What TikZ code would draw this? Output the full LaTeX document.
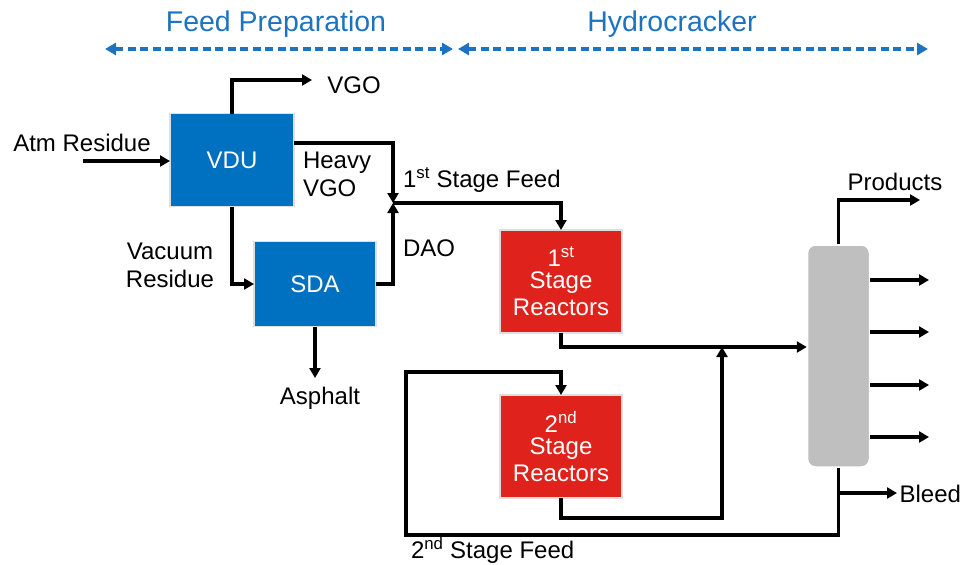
\documentclass[tikz,border=0pt]{standalone}
\usepackage{fontspec}
\setmainfont{Liberation Sans}
\usetikzlibrary{arrows.meta}
\definecolor{boxblue}{RGB}{0,112,192}
\definecolor{boxred}{RGB}{224,34,28}
\definecolor{hdrblue}{RGB}{30,115,190}
\definecolor{colgray}{RGB}{191,191,191}
\begin{document}
\begin{tikzpicture}[x=1pt,y=-1pt,
  lbl/.style={font=\fontsize{24}{28}\selectfont, inner sep=0pt, outer sep=0pt},
  hdrlbl/.style={font=\fontsize{28.5}{32}\selectfont, text=hdrblue, inner sep=0pt},
  unit/.style={draw=gray!25, line width=1.5pt, text=white, inner sep=0pt, outer sep=0pt,
    font=\fontsize{24}{27}\selectfont, align=center},
  flow/.style={line width=3.2pt, line join=miter, -{Triangle[length=10pt,width=11pt]}},
  hdrarrow/.style={draw=hdrblue, line width=3.4pt, dash pattern=on 8pt off 4.5pt,
    {Triangle[length=11pt,width=12pt]}-{Triangle[length=11pt,width=12pt]}}]
\useasboundingbox (0,0) rectangle (962,565);

% header
\node[hdrlbl] (fp) at (276,24) {Feed Preparation};
\node[hdrlbl] (hc) at (672,24) {Hydrocracker};
\coordinate (fpl) at (105,49);
\coordinate (fpr) at (453,49);
\coordinate (hcl) at (458,49);
\coordinate (hcr) at (928,49);
\draw[hdrarrow] (fpl) -- (fpr);
\draw[hdrarrow] (hcl) -- (hcr);

% units
\node[unit, fill=boxblue, minimum width=124pt, minimum height=93pt] (vdu) at (232,160) {VDU};
\node[unit, fill=boxblue, minimum width=122pt, minimum height=85pt] (sda) at (315,284) {SDA};
\node[unit, fill=boxred, minimum width=122pt, minimum height=103pt] (r1) at (561,281.5)
  {1\textsuperscript{st}\\[-5pt]Stage\\Reactors};
\node[unit, fill=boxred, minimum width=122pt, minimum height=103pt] (r2) at (561,446.5)
  {2\textsuperscript{nd}\\[-5pt]Stage\\Reactors};
\node[draw=white, line width=1.5pt, fill=colgray, rounded corners=8pt, inner sep=0pt,
  minimum width=62pt, minimum height=222pt] (col) at (838.5,356) {};

% labels
\node[lbl] (atm) at (82,143) {Atm Residue};
\node[lbl] (vgo) at (354,85) {VGO};
\node[lbl, anchor=west, align=left] (hvgo) at (303,174) {Heavy\\VGO};
\node[lbl, anchor=west] (f1) at (403,180) {1\textsuperscript{st} Stage Feed};
\node[lbl, anchor=west] (dao) at (403,248) {DAO};
\node[lbl, align=center] (vr) at (170,265) {Vacuum\\Residue};
\node[lbl] (asp) at (320,398) {Asphalt};
\node[lbl] (prod) at (895,182) {Products};
\node[lbl, anchor=east] (bleed) at (961,494) {Bleed};
\node[lbl, anchor=west] (f2) at (411,550) {2\textsuperscript{nd} Stage Feed};

% coordinates
\coordinate (atmin) at (83,161);
\coordinate (vgoout) at (312,80);
\coordinate (j) at (393,203);
\coordinate (m) at (722,347);
\coordinate (b) at (722,518);
\coordinate (lbl2) at (406,535);
\coordinate (ltl2) at (406,372);
\coordinate (prodout) at (920,200);
\coordinate (bleedout) at (897,493);

% flows
\draw[flow] (atmin) -- (atmin -| vdu.west);
\draw[flow] (vdu.north) |- (vgoout);
\draw[flow] (vdu.east |- 0,143) -| (j);
\draw[flow] (sda.east) -| (j);
\draw[flow] (j) -| (r1.north);
\draw[flow] (vdu.south) |- (sda.west);
\draw[flow] (sda.south) -- (sda.south |- 0,378);
\draw[flow] (r1.south) |- (col.west |- m);
\draw[flow] (r2.south) |- (b) -- (m);
\draw[flow] (col.south) |- (lbl2) -- (ltl2) -| (r2.north);
\draw[flow] (col.south |- bleedout) -- (bleedout);
\draw[flow] (col.north) |- (prodout);
\foreach \yy in {280,332,385,437}
  \draw[flow] (col.east |- 0,\yy) -- (929,\yy);
\end{tikzpicture}
\end{document}
